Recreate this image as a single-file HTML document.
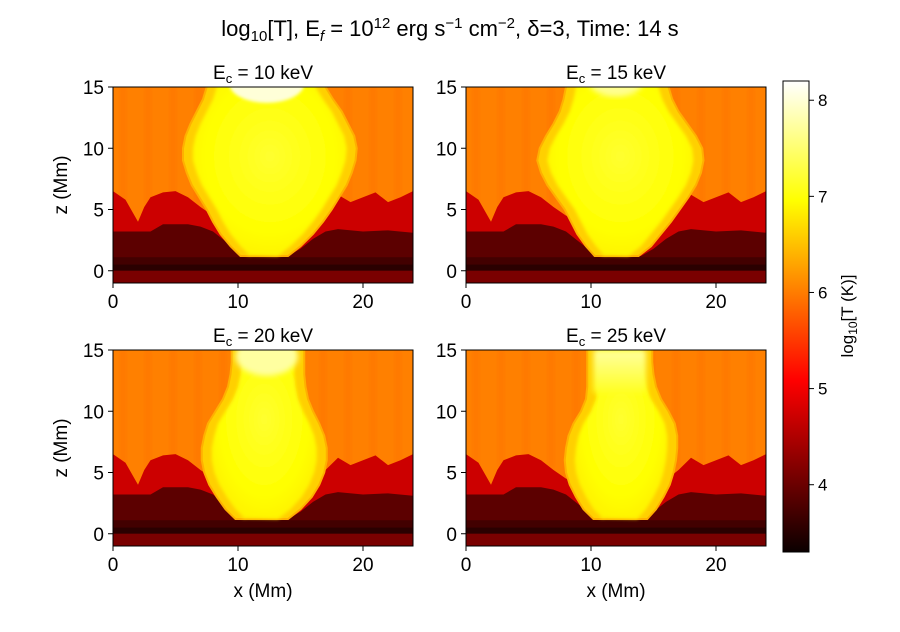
<!DOCTYPE html>
<html><head><meta charset="utf-8"><style>
body{margin:0;background:#fff;width:900px;height:627px;overflow:hidden;font-family:"Liberation Sans","DejaVu Sans",sans-serif}
svg text{font-family:"Liberation Sans","DejaVu Sans",sans-serif;fill:#000}
</style></head><body>
<svg id="fig" width="900" height="627">
<defs>
<linearGradient id="hot" x1="0" y1="1" x2="0" y2="0">
<stop offset="0" stop-color="#0b0000"/><stop offset="0.365" stop-color="#ff0000"/><stop offset="0.746" stop-color="#ffff00"/><stop offset="1" stop-color="#ffffff"/>
</linearGradient>
<radialGradient id="core" cx="0.5" cy="0.45" r="0.6"><stop offset="0" stop-color="#ffff30"/><stop offset="0.7" stop-color="#ffff00"/><stop offset="1" stop-color="#fff000"/></radialGradient>
<linearGradient id="col" x1="0" y1="0" x2="0" y2="1"><stop offset="0" stop-color="#ffffa0"/><stop offset="1" stop-color="#ffff20"/></linearGradient>
<filter id="blur"><feGaussianBlur stdDeviation="1.5"/></filter>
<filter id="blur3"><feGaussianBlur stdDeviation="3"/></filter>
</defs>
<text x="450" y="36" font-size="22" text-anchor="middle">log<tspan font-size="15" dy="5">10</tspan><tspan dy="-5">[T], E</tspan><tspan font-size="15" dy="5" font-style="italic">f</tspan><tspan dy="-5"> = 10</tspan><tspan font-size="15" dy="-8">12</tspan><tspan dy="8"> erg s</tspan><tspan font-size="15" dy="-8">−1</tspan><tspan dy="8"> cm</tspan><tspan font-size="15" dy="-8">−2</tspan><tspan dy="8">, δ=3, Time: 14 s</tspan></text>
</svg>
<script>
const panelTitles=["10","15","20","25"];
const zLevels=[1.2,2,3,4,5,6,7,8,9,10,11,12,13,14,15];
const plumeLeft=[
[10.2,9.4,8.6,8.0,7.5,6.9,6.3,5.9,5.6,5.6,5.8,6.2,6.7,7.2,7.5],
[10.3,9.6,8.9,8.4,7.9,7.2,6.5,6.0,5.7,5.9,6.4,7.0,7.5,7.8,8.0],
[9.8,9.0,8.3,7.7,7.3,7.1,7.1,7.3,7.6,8.2,8.8,9.2,9.4,9.5,9.5],
[10.2,9.4,8.8,8.3,8.0,7.9,8.0,8.2,8.6,9.2,9.6,9.7,9.7,9.7,9.7]];
const plumeRight=[
[14,15.0,16.0,16.8,17.5,18.1,18.7,19.1,19.4,19.5,19.3,18.8,18.3,17.6,17],
[13.8,14.8,15.6,16.4,17.1,17.8,18.4,18.8,19.0,18.9,18.4,17.7,17.0,16.5,16.2],
[14,15.0,15.9,16.5,16.9,17.1,17.1,16.9,16.5,16.0,15.6,15.4,15.3,15.3,15.3],
[14.5,15.2,15.8,16.3,16.6,16.8,16.9,16.9,16.7,16.2,15.6,15.2,15.0,14.9,14.9]];
const redX=[0,1,2,2.5,3,4,5,6,7,8,9,16,17,18,19,20,21,22,23,24];
const redTop=[6.5,5.8,4.0,5.2,6.0,6.4,6.5,6.0,5.2,4.5,4.2,4.4,5.2,6.2,5.6,6.0,6.4,5.6,6.0,6.5];
const darkX=[0,3,4,6,7,8,9,10,11,14,15,16,17,18,20,22,24];
const darkTop=[3.2,3.2,3.8,3.8,3.6,3.2,2.4,1.6,1.2,1.2,1.8,2.6,3.2,3.4,3.2,3.3,3.1];
const xTicks=[0,10,20];
const zTicks=[0,5,10,15];
const cbTicks=[4,5,6,7,8];

const svg=document.getElementById('fig');
const NS="http://www.w3.org/2000/svg";
function mk(t,a,p){const e=document.createElementNS(NS,t);for(const k in a)e.setAttribute(k,a[k]);(p||svg).appendChild(e);return e;}
const panels=[{x0:113,yTop:87},{x0:466,yTop:87},{x0:113,yTop:350},{x0:466,yTop:350}];
const W=300,H=196,ppx=W/24,ppz=H/16;
panels.forEach((P,i)=>{
  const sx=x=>P.x0+x*ppx, sz=z=>P.yTop+(15-z)*ppz;
  const g=mk('g',{});
  
  
  const cid='clip'+i;
  const cp=mk('clipPath',{id:cid},svg.querySelector('defs'));
  mk('rect',{x:P.x0,y:P.yTop,width:W,height:H},cp);
  const c=mk('g',{'clip-path':'url(#'+cid+')'},g);
  mk('rect',{x:P.x0,y:P.yTop,width:W,height:H,fill:'#ff8000'},c);
  for(let k=0;k<12;k++){mk('rect',{x:sx(k*2+0.5),y:P.yTop,width:ppx*0.6,height:H*0.6,fill:'#ff7400',opacity:0.5,filter:'url(#blur)'},c);}
  let d='M'+sx(0)+','+sz(-1);
  redX.forEach((x,j)=>{d+=' L'+sx(x)+','+sz(redTop[j]);});
  d+=' L'+sx(24)+','+sz(-1)+'Z';
  const red=mk('path',{d:d,fill:'#cc0000'},c);
  
  
  d='M'+sx(0)+','+sz(-1);
  darkX.forEach((x,j)=>{d+=' L'+sx(x)+','+sz(darkTop[j]);});
  d+=' L'+sx(24)+','+sz(-1)+'Z';
  mk('path',{d:d,fill:'#5c0000'},c);
  mk('rect',{x:P.x0,y:sz(1.1),width:W,height:1.0*ppz,fill:'#420000'},c);
  mk('rect',{x:P.x0,y:sz(0.5),width:W,height:0.5*ppz,fill:'#2a0000'},c);
  mk('rect',{x:P.x0,y:sz(0),width:W,height:1*ppz,fill:'#7a0000'},c);
  const L=plumeLeft[i],R=plumeRight[i];
  let p='M'+sx(L[0])+','+sz(zLevels[0]);
  zLevels.forEach((z,j)=>{p+=' L'+sx(L[j])+','+sz(z);});
  p+=' L'+sx(L[L.length-1])+','+sz(16)+' L'+sx(R[R.length-1])+','+sz(16);
  for(let j=zLevels.length-1;j>=0;j--)p+=' L'+sx(R[j])+','+sz(zLevels[j]);
  const env=mk('path',{d:p+'Z',fill:'#ffd000',stroke:'#ffb000','stroke-width':2},c);
  
  
  p='M'+sx(L[0]+0.3)+','+sz(zLevels[0]+0.1);
  zLevels.forEach((z,j)=>{p+=' L'+sx(L[j]+0.8)+','+sz(z);});
  p+=' L'+sx(L[L.length-1]+0.8)+','+sz(16)+' L'+sx(R[R.length-1]-0.8)+','+sz(16);
  for(let j=zLevels.length-1;j>=0;j--)p+=' L'+sx(R[j]-0.8)+','+sz(zLevels[j]);
  const core=mk('path',{d:p+'Z',fill:'url(#core)',filter:'url(#blur)'},c);
  
  
  if(i===0){mk('ellipse',{cx:sx(12.3),cy:sz(15.3),rx:3*ppx,ry:1.6*ppz,fill:'#ffffd8',filter:'url(#blur)'},c);}
  if(i===1){mk('ellipse',{cx:sx(12),cy:sz(15.5),rx:2.2*ppx,ry:1.3*ppz,fill:'#ffff90',filter:'url(#blur3)'},c);}
  if(i===2){mk('ellipse',{cx:sx(12.3),cy:sz(14.5),rx:2.5*ppx,ry:1.6*ppz,fill:'#ffffa0',filter:'url(#blur3)'},c);}
  if(i===3){mk('rect',{x:sx(10.2),y:P.yTop,width:4.2*ppx,height:3.5*ppz,fill:'url(#col)',filter:'url(#blur3)'},c);}
  mk('rect',{x:P.x0,y:P.yTop,width:W,height:H,fill:'none',stroke:'#000','stroke-width':1},g);
  const t=mk('text',{x:P.x0+W/2,y:P.yTop-8,'font-size':19,'text-anchor':'middle'},g);
  t.innerHTML='E<tspan font-size="13" dy="4">c</tspan><tspan dy="-4"> = '+panelTitles[i]+' keV</tspan>';
  
  
  xTicks.forEach(v=>{mk('line',{x1:sx(v),x2:sx(v),y1:P.yTop+H,y2:P.yTop+H+5,stroke:'#000'},g);
    const tt=mk('text',{x:sx(v),y:P.yTop+H+25,'font-size':19,'text-anchor':'middle'},g);tt.textContent=v;
    
    });
  zTicks.forEach(v=>{mk('line',{x1:P.x0-5,x2:P.x0,y1:sz(v),y2:sz(v),stroke:'#000'},g);
    const tt=mk('text',{x:P.x0-9,y:sz(v)+7,'font-size':19,'text-anchor':'end'},g);tt.textContent=v;
    
    });
  if(i%2===0){const yl=mk('text',{x:0,y:0,'font-size':19,'text-anchor':'middle',transform:'translate(67,'+(P.yTop+H/2)+') rotate(-90)'},g);yl.textContent='z (Mm)';
    
    }
  if(i>=2){const xl=mk('text',{x:P.x0+W/2,y:597,'font-size':19,'text-anchor':'middle'},g);xl.textContent='x (Mm)';
    
    }
});
const cb=mk('g',{});


const cbTop=81,cbBot=552,vMin=3.3,vMax=8.2;
const cy=v=>cbBot-(v-vMin)/(vMax-vMin)*(cbBot-cbTop);
mk('rect',{x:783,y:cbTop,width:26,height:cbBot-cbTop,fill:'url(#hot)',stroke:'#000','stroke-width':1},cb);
cbTicks.forEach(v=>{mk('line',{x1:809,x2:814,y1:cy(v),y2:cy(v),stroke:'#000'},cb);
  const t=mk('text',{x:818,y:cy(v)+6,'font-size':17},cb);t.textContent=v;
  
  });
const cl=mk('text',{x:0,y:0,'font-size':17,'text-anchor':'middle',transform:'translate(853,316) rotate(-90)'},cb);
cl.innerHTML='log<tspan font-size="12" dy="4">10</tspan><tspan dy="-4">[T (K)]</tspan>';


</script>
</body></html>
